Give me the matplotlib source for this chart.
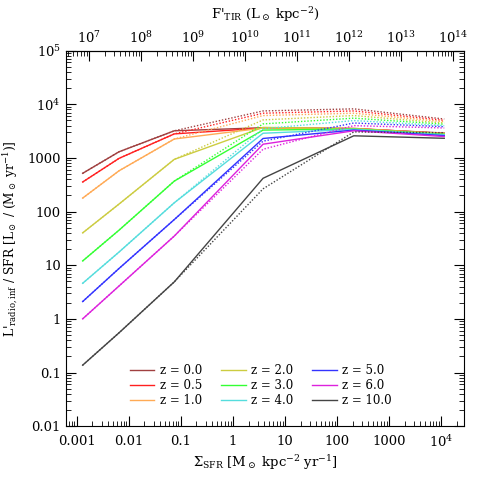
import numpy as np
import matplotlib
matplotlib.use("Agg")
import matplotlib.pyplot as plt
from matplotlib.ticker import LogLocator, FuncFormatter, NullFormatter, FixedLocator

plt.rcParams['font.family'] = ['DejaVu Serif']
plt.rcParams['mathtext.fontset'] = 'dejavuserif'
plt.rcParams['font.size'] = 9

# surface SFR density grid points
sigma_sfr = [0.0013, 0.0065, 0.075, 3.8, 210, 11500]

redshifts = ['0.0', '0.5', '1.0', '2.0', '3.0', '4.0', '5.0', '6.0', '10.0']
colors = ['#a04040', '#ff2020', '#ffaa55', '#cccc40', '#33ff33',
          '#55dddd', '#3333ff', '#dd22dd', '#444444']

# solid lines
solid = [
    [516, 1300, 3200, 3650, 3500, 2900],
    [355, 980, 2800, 3600, 3550, 2850],
    [178, 575, 2250, 3600, 3500, 2850],
    [40, 138, 940, 3700, 3500, 2800],
    [12, 45, 370, 3300, 3450, 2750],
    [4.6, 17.6, 146, 2880, 3400, 2700],
    [2.1, 8.7, 71, 2300, 3300, 2600],
    [1.0, 4.1, 35, 1800, 3200, 2500],
    [0.137, 0.55, 4.9, 417, 2580, 2320],
]

# dotted lines
dotted = [
    [516, 1300, 3200, 7500, 8200, 5300],
    [355, 980, 2800, 6800, 7500, 5000],
    [178, 575, 2250, 6150, 6800, 4730],
    [40, 138, 940, 5100, 6150, 4470],
    [12, 45, 370, 4300, 5500, 4240],
    [4.6, 17.6, 146, 3500, 4960, 3990],
    [2.1, 8.7, 71, 2050, 4470, 3820],
    [1.0, 4.1, 35, 1450, 3990, 3610],
    [0.137, 0.55, 4.9, 265, 3050, 2950],
]

top_ticks = [1e7, 1e8, 1e9, 1e10, 1e11, 1e12, 1e13, 1e14]

fig = plt.figure(figsize=(4.91, 4.91), dpi=100)
ax = fig.add_axes([0.134, 0.132, 0.811, 0.765])

for i in range(len(redshifts)):
    ax.plot(sigma_sfr, solid[i], color=colors[i], lw=1.0,
            label='z = ' + redshifts[i])
    ax.plot(sigma_sfr, dotted[i], color=colors[i], lw=1.0, ls=(0, (1, 1.3)))

ax.set_xscale('log')
ax.set_yscale('log')
ax.set_xlim(10**-3.21, 10**4.44)
ax.set_ylim(0.01, 1e5)

def fmt(v, pos):
    if v > 1000:
        return r'$10^{%d}$' % int(round(np.log10(v)))
    return '%g' % v

ax.xaxis.set_major_formatter(FuncFormatter(fmt))
ax.yaxis.set_major_formatter(FuncFormatter(fmt))
ax.xaxis.set_minor_locator(LogLocator(base=10, subs=np.arange(2, 10), numticks=20))
ax.yaxis.set_minor_locator(LogLocator(base=10, subs=np.arange(2, 10), numticks=20))
ax.xaxis.set_minor_formatter(NullFormatter())
ax.yaxis.set_minor_formatter(NullFormatter())
ax.tick_params(which='both', direction='in', right=True, top=False, labelsize=9.5)
ax.tick_params(which='major', length=7, width=0.8)
ax.tick_params(which='minor', length=3.5, width=0.6)
ax.tick_params(axis='x', pad=6)

ax.set_xlabel(r"$\Sigma_{\rm SFR}$ [M$_\odot$ kpc$^{-2}$ yr$^{-1}$]", fontsize=9.5,
              labelpad=2)
ax.set_ylabel(r"L$'_{\rm radio,inf}$ / SFR [L$_\odot$ / (M$_\odot$ yr$^{-1}$)]",
              fontsize=8.8, labelpad=5)

conv = 1.72e-10
top = ax.secondary_xaxis('top', functions=(lambda s: s / conv, lambda f: f * conv))
top.xaxis.set_major_locator(FixedLocator(top_ticks))
top.xaxis.set_minor_locator(LogLocator(base=10, subs=np.arange(2, 10), numticks=20))
top.xaxis.set_major_formatter(FuncFormatter(lambda v, p: r'$10^{%d}$' % int(round(np.log10(v)))))
top.xaxis.set_minor_formatter(NullFormatter())
top.tick_params(which='both', direction='in', labelsize=9.5)
top.tick_params(which='major', length=7, width=0.8)
top.tick_params(which='minor', length=3.5, width=0.6)
top.set_xlabel(r"F$'_{\rm TIR}$ (L$_\odot$ kpc$^{-2}$)", fontsize=9.5, labelpad=8)

ax.legend(ncol=3, loc='lower left', bbox_to_anchor=(0.16, 0.05), frameon=False,
          fontsize=8.5, handlelength=2.1, columnspacing=1.6, labelspacing=0.2,
          handletextpad=0.45, borderpad=0, borderaxespad=0)

fig.savefig('out.png', dpi=100)
